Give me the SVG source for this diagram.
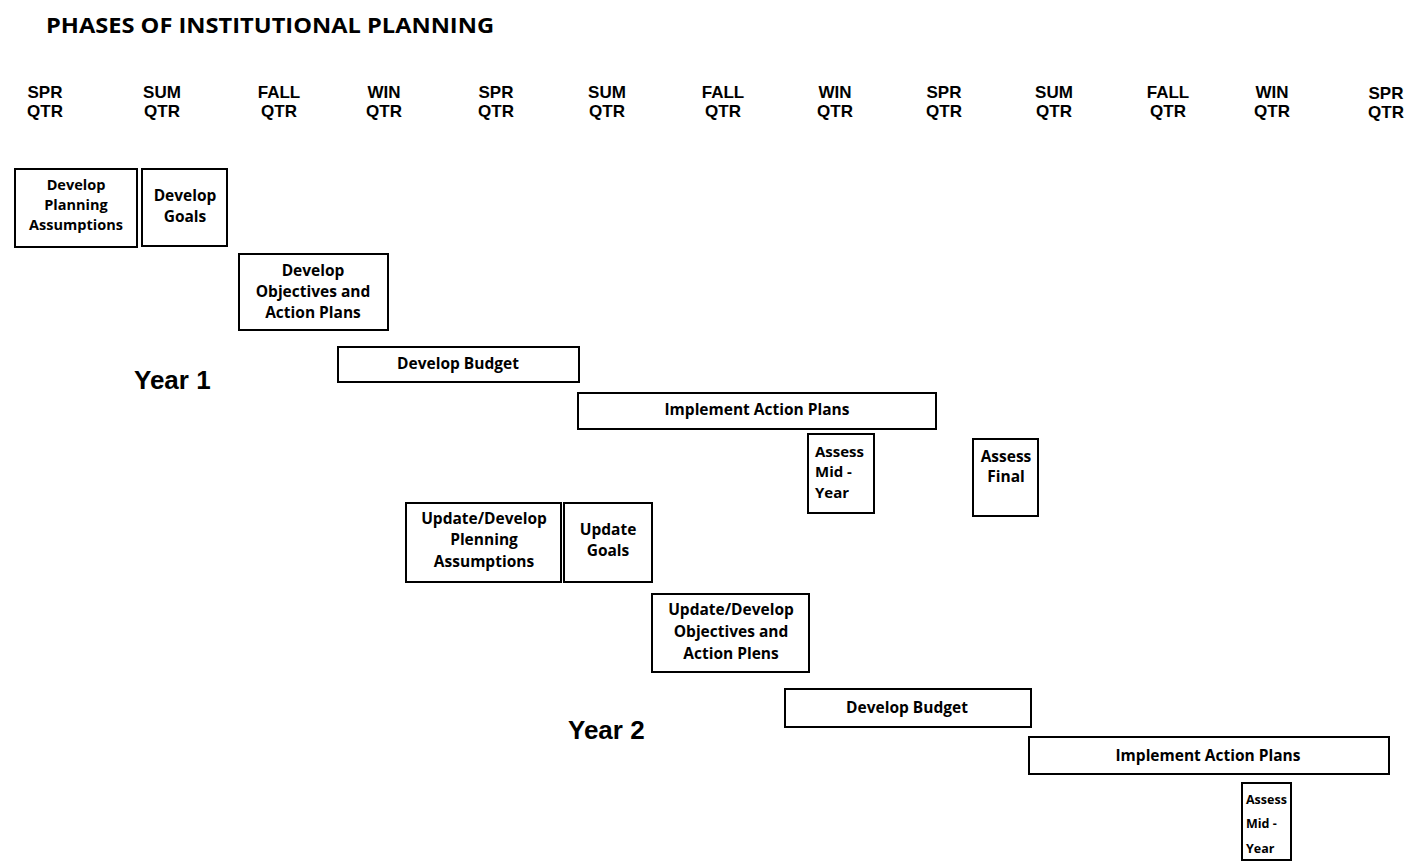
<svg xmlns="http://www.w3.org/2000/svg" width="1412" height="863" viewBox="0 0 1412 863">
<style>
text{font-family:"Open Sans","Liberation Sans",sans-serif;font-weight:bold;fill:#000}
.t{font-size:22px}
.q{font-size:17px;text-anchor:middle;font-family:"Liberation Sans",Arial,sans-serif}
.b{font-size:15.5px;text-anchor:middle}
.c{font-size:14.5px;text-anchor:middle}
.l{font-size:15px}
.s{font-size:12.5px}
.y{font-size:26px;font-family:"Liberation Sans",Arial,sans-serif}
rect{fill:#fff;stroke:#000;stroke-width:2}
</style>
<rect x="0" y="0" width="1412" height="863" style="stroke:none"/>
<text class="t" x="46" y="33" textLength="448" lengthAdjust="spacingAndGlyphs">PHASES OF INSTITUTIONAL PLANNING</text>
<g id="quarters">
<text class="q" x="45" y="98">SPR</text><text class="q" x="45" y="117">QTR</text>
<text class="q" x="162" y="98">SUM</text><text class="q" x="162" y="117">QTR</text>
<text class="q" x="279" y="98">FALL</text><text class="q" x="279" y="117">QTR</text>
<text class="q" x="384" y="98">WIN</text><text class="q" x="384" y="117">QTR</text>
<text class="q" x="496" y="98">SPR</text><text class="q" x="496" y="117">QTR</text>
<text class="q" x="607" y="98">SUM</text><text class="q" x="607" y="117">QTR</text>
<text class="q" x="723" y="98">FALL</text><text class="q" x="723" y="117">QTR</text>
<text class="q" x="835" y="98">WIN</text><text class="q" x="835" y="117">QTR</text>
<text class="q" x="944" y="98">SPR</text><text class="q" x="944" y="117">QTR</text>
<text class="q" x="1054" y="98">SUM</text><text class="q" x="1054" y="117">QTR</text>
<text class="q" x="1168" y="98">FALL</text><text class="q" x="1168" y="117">QTR</text>
<text class="q" x="1272" y="98">WIN</text><text class="q" x="1272" y="117">QTR</text>
<text class="q" x="1386" y="99">SPR</text><text class="q" x="1386" y="118">QTR</text>
</g>
<g id="year1"><text class="y" x="134" y="389">Year 1</text></g>
<g id="year2"><text class="y" x="568" y="739">Year 2</text></g>
<g id="n1"><rect x="15" y="169" width="122" height="78"/>
<text class="c" x="76" y="190">Develop</text><text class="c" x="76" y="210">Planning</text><text class="c" x="76" y="230">Assumptions</text></g>
<g id="n2"><rect x="142" y="169" width="85" height="77"/>
<text class="b" x="185" y="201">Develop</text><text class="b" x="185" y="222">Goals</text></g>
<g id="n3"><rect x="239" y="254" width="149" height="76"/>
<text class="b" x="313" y="276">Develop</text><text class="b" x="313" y="297">Objectives and</text><text class="b" x="313" y="318">Action Plans</text></g>
<g id="n4"><rect x="338" y="347" width="241" height="35"/>
<text class="b" x="458" y="369">Develop Budget</text></g>
<g id="n5"><rect x="578" y="393" width="358" height="36"/>
<text class="b" x="757" y="415">Implement Action Plans</text></g>
<g id="n6"><rect x="808" y="434" width="66" height="79"/>
<text class="l" x="815" y="457">Assess</text><text class="l" x="815" y="477">Mid -</text><text class="l" x="815" y="498">Year</text></g>
<g id="n7"><rect x="973" y="439" width="65" height="77"/>
<text class="b" x="1006" y="462">Assess</text><text class="b" x="1006" y="482">Final</text></g>
<g id="n8"><rect x="406" y="503" width="155" height="79"/>
<text class="b" x="484" y="524">Update/Develop</text><text class="b" x="484" y="545">Plenning</text><text class="b" x="484" y="567">Assumptions</text></g>
<g id="n9"><rect x="564" y="503" width="88" height="79"/>
<text class="b" x="608" y="535">Update</text><text class="b" x="608" y="556">Goals</text></g>
<g id="n10"><rect x="652" y="594" width="157" height="78"/>
<text class="b" x="731" y="615">Update/Develop</text><text class="b" x="731" y="637">Objectives and</text><text class="b" x="731" y="659">Action Plens</text></g>
<g id="n11"><rect x="785" y="689" width="246" height="38"/>
<text class="b" x="907" y="713">Develop Budget</text></g>
<g id="n12"><rect x="1029" y="737" width="360" height="37"/>
<text class="b" x="1208" y="761">Implement Action Plans</text></g>
<g id="n13"><rect x="1242" y="783" width="49" height="77"/>
<text class="s" x="1246" y="804">Assess</text><text class="s" x="1246" y="828">Mid -</text><text class="s" x="1246" y="853">Year</text></g>
<g id="connectors"/>
</svg>
